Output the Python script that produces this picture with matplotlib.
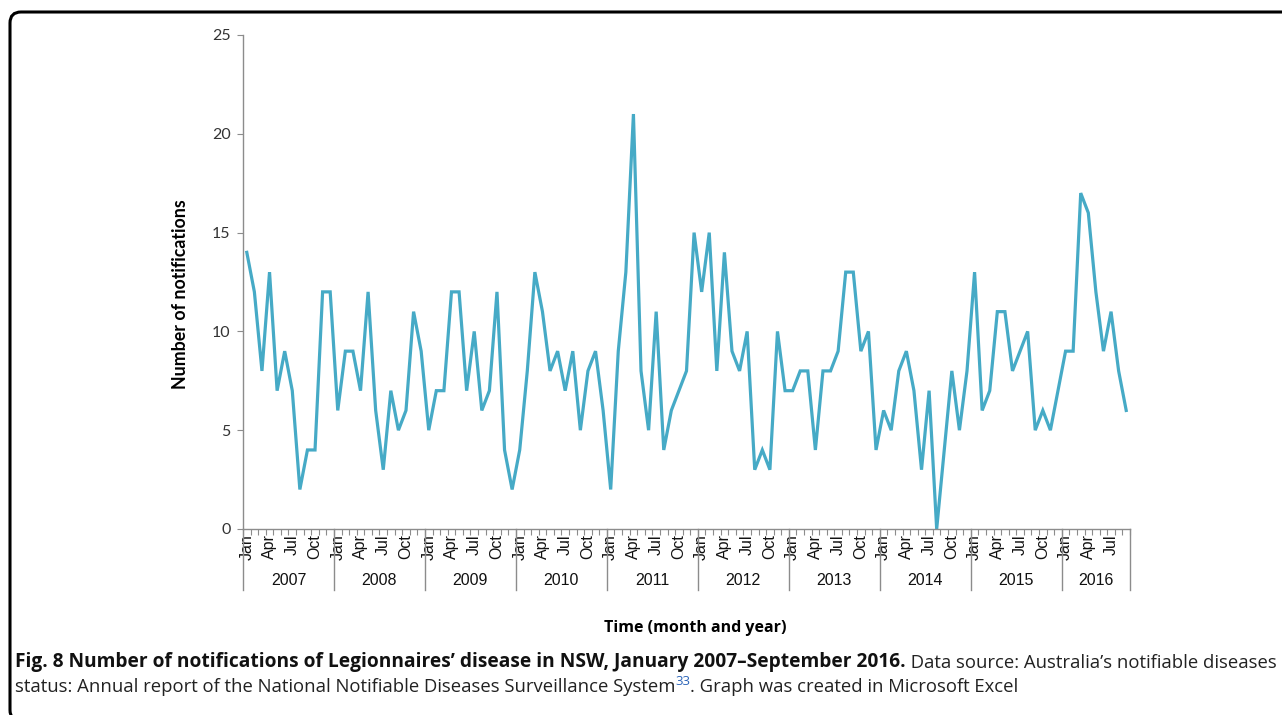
import matplotlib
matplotlib.use("Agg")
from matplotlib import pyplot as plt
from matplotlib.patches import FancyBboxPatch
from matplotlib.transforms import IdentityTransform, blended_transform_factory
import numpy as np

# monthly notifications, Jan 2007 - Sep 2016
years = ['2007', '2008', '2009', '2010', '2011', '2012', '2013', '2014', '2015', '2016']
month_labels = ['Jan', 'Apr', 'Jul', 'Oct']
n2007 = [14, 12, 8, 13, 7, 9, 7, 2, 4, 4, 12, 12]
n2008 = [6, 9, 9, 7, 12, 6, 3, 7, 5, 6, 11, 9]
n2009 = [5, 7, 7, 12, 12, 7, 10, 6, 7, 12, 4, 2]
n2010 = [4, 8, 13, 11, 8, 9, 7, 9, 5, 8, 9, 6]
n2011 = [2, 9, 13, 21, 8, 5, 11, 4, 6, 7, 8, 15]
n2012 = [12, 15, 8, 14, 9, 8, 10, 3, 4, 3, 10, 7]
n2013 = [7, 8, 8, 4, 8, 8, 9, 13, 13, 9, 10, 4]
n2014 = [6, 5, 8, 9, 7, 3, 7, 0, 4, 8, 5, 8]
n2015 = [13, 6, 7, 11, 11, 8, 9, 10, 5, 6, 5, 7]
n2016 = [9, 9, 17, 16, 12, 9, 11, 8, 6]

series = [n2007, n2008, n2009, n2010, n2011, n2012, n2013, n2014, n2015, n2016]
values = np.concatenate(series)
x = np.arange(len(values))

W, H = 1282, 715
fig = plt.figure(figsize=(W / 100, H / 100), dpi=100)
ax = fig.add_axes([243 / W, 1 - 529 / H, 887 / W, 494 / H])

ax.plot(x, values, color='#46aac6', lw=2.3, solid_joinstyle='miter')

ax.set_xlim(-0.5, len(values) - 0.5)
ax.set_ylim(0, 25)
ax.set_yticks(range(0, 26, 5))
for s in ['top', 'right']:
    ax.spines[s].set_visible(False)
for s in ['left', 'bottom']:
    ax.spines[s].set_color('#8c8c8c')
    ax.spines[s].set_linewidth(1.0)

ax.tick_params(axis='y', length=4, color='#8c8c8c', labelsize=11.5, labelcolor='#333333', pad=5)
for lab in ax.get_yticklabels():
    lab.set_family('Lato')

# month labels at Jan/Apr/Jul/Oct, ticks between months
pos, labs = [], []
start = 0
for s in series:
    for k in range(0, len(s), 3):
        pos.append(start + k)
        labs.append(month_labels[k // 3])
    start += len(s)
ax.set_xticks(pos)
ax.set_xticklabels(labs, rotation=90, fontsize=11.5, family='Liberation Sans', color='#111111')
ax.tick_params(axis='x', which='major', length=0, pad=4)
ax.set_xticks(np.arange(-0.5, len(values), 1), minor=True)
ax.tick_params(axis='x', which='minor', length=4, color='#8c8c8c', width=0.8)

# year separators and year labels
tr = blended_transform_factory(ax.transData, ax.transAxes)
start = 0
bounds = [-0.5]
for yr, s in zip(years, series):
    end = start + len(s)
    bounds.append(end - 0.5)
    ax.text((start + end - 1) / 2, -0.104, yr, transform=tr, ha='center', va='center',
            fontsize=11.5, family='Liberation Sans', color='#111111')
    start = end
for b in bounds:
    ax.plot([b, b], [0, -0.124], transform=tr, color='#8c8c8c', lw=1.0, clip_on=False)

fig.text(180 / W, 1 - 294 / H, 'Number of notifications', rotation=90, ha='center', va='center',
         fontsize=12.8, fontweight='bold', family='Lato')
fig.text(695 / W, 1 - 628 / H, 'Time (month and year)', ha='center', va='center',
         fontsize=11.5, fontweight='bold', family='Open Sans')

# caption
bold_fs = 13.8
cap_fs = 13.35
t1 = fig.text(15 / W, 1 - 667 / H,
              'Fig. 8 Number of notifications of Legionnaires\u2019 disease in NSW, January 2007\u2013September 2016.',
              fontsize=bold_fs, fontweight='bold', family='Open Sans', va='baseline', color='#111111')
ax.annotate(' Data source: Australia\u2019s notifiable diseases', xy=(1, 0), xycoords=t1,
            va='bottom', ha='left', fontsize=cap_fs, family='Open Sans', color='#222222',
            annotation_clip=False)
t3 = fig.text(15 / W, 1 - 692 / H,
              'status: Annual report of the National Notifiable Diseases Surveillance System',
              fontsize=cap_fs, family='Open Sans', va='baseline', color='#222222')
t4 = ax.annotate('33', xy=(1, 0.42), xycoords=t3, va='bottom', ha='left', fontsize=9.5,
                 family='Open Sans', color='#2a63b8', annotation_clip=False)
ax.annotate('. Graph was created in Microsoft Excel', xy=(1, 0), xycoords=(t4, t3), va='bottom',
            ha='left', fontsize=cap_fs, family='Open Sans', color='#222222', annotation_clip=False)

# rounded frame (open at right and bottom)
frame = FancyBboxPatch((10, -6), 1400, H - 12 + 6, boxstyle='round,pad=0,rounding_size=11',
                       transform=IdentityTransform(), fill=False, ec='black', lw=2.2)
fig.patches.append(frame)

fig.savefig('out.png', dpi=100)
